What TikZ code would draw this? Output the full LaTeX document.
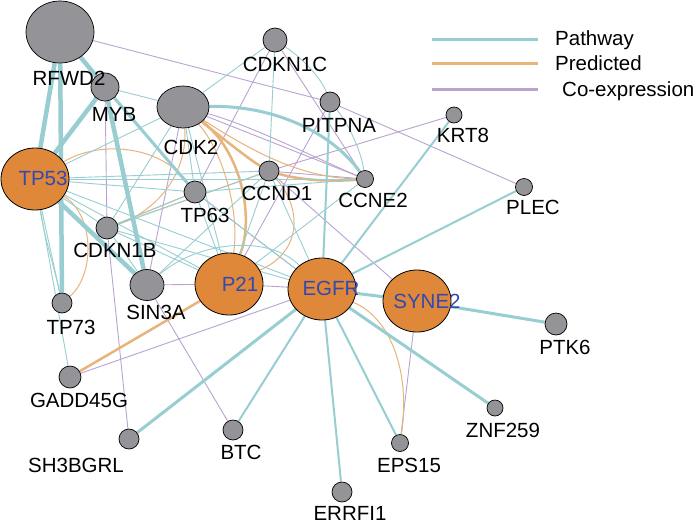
\documentclass[tikz,border=0pt]{standalone}
\usepackage{fontspec}
\setmainfont{Liberation Sans}
\usetikzlibrary{shapes.geometric}
\pgfdeclarelayer{back}
\pgfdeclarelayer{bg}
\pgfsetlayers{back,bg,main}
\definecolor{pwc}{RGB}{152,206,210}
\definecolor{prc}{RGB}{232,180,122}
\definecolor{coc}{RGB}{186,163,208}
\definecolor{gnode}{RGB}{148,148,152}
\definecolor{onode}{RGB}{223,136,58}
\definecolor{btext}{RGB}{52,72,178}
\begin{document}
\begin{tikzpicture}[x=1pt,y=-1pt,
 gn/.style={ellipse, draw=black, line width=0.7pt, fill=gnode, inner sep=0pt},
 on/.style={ellipse, draw=black, line width=0.8pt, fill=onode, inner sep=0pt, minimum width=68pt, minimum height=62pt},
 lab/.style={font=\fontsize{20.5}{24}\selectfont, inner sep=0pt, text=black},
 blab/.style={lab, text=btext},
 pw/.style={draw=pwc, line width=0.9pt},
 pwm/.style={draw=pwc, line width=2pt},
 pwk/.style={draw=pwc, line width=3pt},
 pwt/.style={draw=pwc, line width=4.5pt},
 pr/.style={draw=prc, line width=1pt},
 prm/.style={draw=prc, line width=2.5pt},
 co/.style={draw=coc, line width=0.9pt},
 lgline/.style={line width=3pt}
]
\begin{pgfonlayer}{back}
\fill[white] (0,0) rectangle (697,523);
\end{pgfonlayer}
\useasboundingbox (0,0) rectangle (697,523);

% nodes
\node[gn, minimum width=68pt, minimum height=62pt] (RFWD2) at (60,32) {};
\node[gn, minimum size=28pt] (MYB) at (105,87) {};
\node[gn, minimum width=52pt, minimum height=42pt] (CDK2) at (183,107) {};
\node[gn, minimum size=24pt] (CDKN1C) at (275,40) {};
\node[gn, minimum size=20pt] (PITPNA) at (330,102) {};
\node[gn, minimum size=16pt] (KRT8) at (454,115) {};
\node[gn, minimum size=17pt] (PLEC) at (524,187) {};
\node[gn, minimum size=17pt] (CCNE2) at (365,179) {};
\node[gn, minimum size=20pt] (CCND1) at (269,171) {};
\node[gn, minimum size=22pt] (TP63) at (195,192) {};
\node[on] (TP53) at (35,179) {};
\node[gn, minimum size=22pt] (CDKN1B) at (107,228) {};
\node[gn, minimum width=34pt, minimum height=31pt] (SIN3A) at (147,285) {};
\node[gn, minimum size=20pt] (TP73) at (62,303) {};
\node[gn, minimum size=22pt] (GADD45G) at (70,377) {};
\node[gn, minimum size=20pt] (SH3BGRL) at (129,439) {};
\node[gn, minimum size=20pt] (BTC) at (233,430) {};
\node[on] (P21) at (229,284) {};
\node[on] (EGFR) at (322,289) {};
\node[on] (SYNE2) at (417,301) {};
\node[gn, minimum size=22pt] (PTK6) at (556,324) {};
\node[gn, minimum size=16pt] (ZNF259) at (495,408) {};
\node[gn, minimum size=17pt] (EPS15) at (400,443) {};
\node[gn, minimum size=20pt] (ERRFI1) at (342,492) {};

% labels
\node[lab] (lRFWD2) at (69,78) {RFWD2};
\node[lab] (lMYB) at (114,114) {MYB};
\node[lab] (lCDK2) at (191,147) {CDK2};
\node[lab] (lCDKN1C) at (285,64) {CDKN1C};
\node[lab] (lPITPNA) at (339,125) {PITPNA};
\node[lab] (lKRT8) at (463,135) {KRT8};
\node[lab] (lPLEC) at (533,207) {PLEC};
\node[lab] (lCCNE2) at (373,200) {CCNE2};
\node[lab] (lCCND1) at (277,193) {CCND1};
\node[lab] (lTP63) at (205,215) {TP63};
\node[blab] (lTP53) at (43,178) {TP53};
\node[lab] (lCDKN1B) at (115,250) {CDKN1B};
\node[lab] (lSIN3A) at (156,312) {SIN3A};
\node[lab] (lTP73) at (71,327) {TP73};
\node[lab] (lGADD45G) at (79,400) {GADD45G};
\node[lab] (lSH3BGRL) at (76,465) {SH3BGRL};
\node[lab] (lBTC) at (241,452) {BTC};
\node[blab] (lP21) at (240,284) {P21};
\node[blab] (lEGFR) at (331,288) {EGFR};
\node[blab] (lSYNE2) at (427,301) {SYNE2};
\node[lab] (lPTK6) at (565,347) {PTK6};
\node[lab] (lZNF259) at (503,430) {ZNF259};
\node[lab] (lEPS15) at (409,465) {EPS15};
\node[lab] (lERRFI1) at (350,513) {ERRFI1};

% legend
\coordinate (lg1a) at (432,39); \coordinate (lg1b) at (538,39);
\coordinate (lg2a) at (432,63); \coordinate (lg2b) at (538,63);
\coordinate (lg3a) at (432,89); \coordinate (lg3b) at (538,89);
\draw[lgline, draw=pwc] (lg1a) -- (lg1b);
\draw[lgline, draw=prc] (lg2a) -- (lg2b);
\draw[lgline, draw=coc] (lg3a) -- (lg3b);
\node[lab, anchor=base west] (lgt1) at (555,45) {Pathway};
\node[lab, anchor=base west] (lgt2) at (555,70) {Predicted};
\node[lab, anchor=base west] (lgt3) at (562,96) {Co-expression};

\begin{pgfonlayer}{bg}
% co-expression
\draw[co] (RFWD2) -- (PITPNA);
\draw[co] (PITPNA) -- (PLEC);
\draw[co] (CDKN1C) -- (CCNE2);
\draw[co] (CDKN1C) -- (TP63);
\draw[co] (CDK2) -- (CCNE2);
\draw[co] (CDK2) .. controls (250,125) and (320,160) .. (CCNE2);
\draw[co] (CCND1) -- (KRT8);
\draw[co] (CCND1) -- (CCNE2);
\draw[co] (CCND1) -- (SYNE2);
\draw[co] (PITPNA) -- (P21);
\draw[co] (MYB) -- (CDKN1B);
\draw[co] (CDKN1B) -- (SH3BGRL);
\draw[co] (CDK2) -- (SIN3A);
\draw[co] (SIN3A) -- (P21);
\draw[co] (SIN3A) -- (BTC);
\draw[co] (P21) -- (EGFR);
\draw[co] (EGFR) -- (GADD45G);
\draw[co] (SYNE2) -- (EPS15);
\draw[co] (TP63) -- (EGFR);
% predicted
\draw[prm] (CDK2) .. controls (240,150) and (255,215) .. (P21);
\draw[pr] (CDK2) .. controls (222,150) and (240,210) .. (P21);
\draw[prm] (CDK2) .. controls (225,140) and (250,160) .. (CCND1);
\draw[pr] (CDK2) .. controls (250,150) and (300,178) .. (CCNE2);
\draw[prm] (CCND1) .. controls (300,180) and (330,182) .. (CCNE2);
\draw[pr] (CDK2) .. controls (188,170) and (160,210) .. (CDKN1B);
\draw[pr] (TP53) .. controls (100,140) and (160,145) .. (TP63);
\draw[pr] (TP53) .. controls (95,215) and (95,275) .. (TP73);
\draw[pr] (CDKN1B) -- (CCND1);
\draw[pr] (CDKN1B) -- (TP63);
\draw[pr] (CCND1) .. controls (300,205) and (305,250) .. (P21);
\draw[prm] (P21) -- (GADD45G);
\draw[pr] (EGFR) .. controls (395,320) and (410,380) .. (EPS15);
% pathway thin
\draw[pw] (TP53) -- (TP73);
\draw[pw] (TP53) .. controls (45,240) and (55,270) .. (TP73);
\draw[pw] (TP53) -- (GADD45G);
\draw[pw] (TP53) -- (TP63);
\draw[pw] (TP53) -- (CCND1);
\draw[pw] (TP53) -- (CCNE2);
\draw[pw] (TP53) -- (CDKN1B);
\draw[pw] (TP53) -- (P21);
\draw[pw] (TP53) -- (EGFR);
\draw[pw] (TP53) -- (CDK2);
\draw[pw] (CDKN1B) -- (CDK2);
\draw[pw] (CDKN1B) -- (TP63);
\draw[pw] (CDKN1B) -- (CCND1);
\draw[pw] (CDKN1B) -- (P21);
\draw[pw] (CDKN1B) -- (EGFR);
\draw[pw] (CDKN1B) -- (SIN3A);
\draw[pw] (MYB) -- (CDK2);
\draw[pw] (CDK2) -- (TP63);
\draw[pw] (CDK2) -- (P21);
\draw[pw] (CDKN1C) -- (CDK2);
\draw[pw] (CDKN1C) -- (CCND1);
\draw[pw] (CDKN1C) .. controls (305,60) and (322,80) .. (PITPNA);
\draw[pw] (PITPNA) .. controls (350,125) and (362,155) .. (CCNE2);
\draw[pw] (CCNE2) -- (TP63);
\draw[pw] (CCNE2) -- (P21);
\draw[pw] (CCND1) -- (P21);
\draw[pw] (CCND1) -- (EGFR);
\draw[pw] (CCND1) -- (SIN3A);
\draw[pw] (TP63) -- (P21);
\draw[pw] (TP63) -- (EGFR);
\draw[pw] (SIN3A) .. controls (200,240) and (270,235) .. (EGFR);
% pathway medium
\draw[pwm] (EGFR) -- (KRT8);
\draw[pwm] (EGFR) -- (PLEC);
\draw[pwm] (EGFR) -- (ERRFI1);
\draw[pwm] (EGFR) -- (EPS15);
\draw[pwm] (EGFR) -- (BTC);
\draw[pwm] (PITPNA) -- (EGFR);
% pathway thick
\draw[pwk] (SYNE2) -- (EGFR);
\draw[pwk] (SYNE2) -- (PTK6);
\draw[pwk] (EGFR) -- (ZNF259);
\draw[pwk] (EGFR) -- (SH3BGRL);
\draw[pwk] (MYB) -- (TP63);
\draw[pwk] (CDK2) .. controls (270,105) and (330,130) .. (CCNE2);
\draw[pwt] (RFWD2) -- (TP53);
\draw[pwt] (RFWD2) -- (TP73);
\draw[pwt] (RFWD2) -- (MYB);
\draw[pwt] (MYB) -- (TP53);
\draw[pwt] (MYB) -- (SIN3A);
\draw[pwt] (TP53) -- (SIN3A);
\end{pgfonlayer}
\end{tikzpicture}
\end{document}
